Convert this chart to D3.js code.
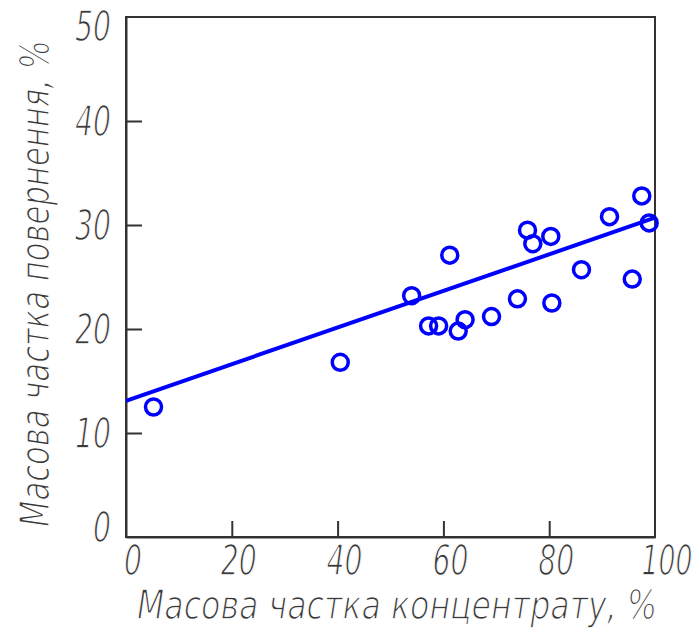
<!DOCTYPE html>
<html><head><meta charset="utf-8">
<script src="https://cdn.jsdelivr.net/npm/d3@7"></script>
<style>body{margin:0;background:#fff}svg{display:block}</style>
</head><body>
<script>
const concentrate = [5.2, 40.5, 54.0, 57.2, 59.1, 61.2, 62.8, 64.1, 69.1, 74.0, 75.9, 76.9, 80.3, 80.5, 86.1, 91.4, 95.7, 97.5, 98.9];
const returned    = [12.5, 16.8, 23.2, 20.3, 20.3, 27.1, 19.8, 20.9, 21.2, 22.9, 29.5, 28.2, 28.9, 22.5, 25.7, 30.8, 24.8, 32.8, 30.2];
const xTicks = [0, 20, 40, 60, 80, 100];
const yTicks = [0, 10, 20, 30, 40, 50];
const fitIntercept = [13.1];
const fitSlope = [0.176];
const xLabel = "Масова частка концентрату, %";
const yLabel = "Масова частка повернення, %";

const W = 698, H = 630;
const L = 126, R = 655, T = 17, B = 537;
const x = d3.scaleLinear().domain([0, 100]).range([L, R]);
const y = d3.scaleLinear().domain([0, 50]).range([B, T]);
const FONT = "'DejaVu Sans Condensed', 'DejaVu Sans', sans-serif";
const axisColor = "#333";
const textColor = "#3a3a3a";

const svg = d3.select("body").append("svg").attr("width", W).attr("height", H);

function thin(sel) {
  return sel.attr("stroke", "#fff").attr("stroke-width", 1.3).attr("paint-order", "normal");
}

// place a text so that its natural width is squeezed to `width`, anchored at its start
function squeezed(parent, str, x0, y0, width, size, rotate) {
  const g = parent.append("g");
  const t = thin(g.append("text")
    .attr("font-family", FONT).attr("font-style", "italic").attr("font-size", size)
    .attr("fill", textColor).text(str));
  const nat = t.node().getComputedTextLength();
  const sx = width / nat;
  g.attr("transform", `translate(${x0},${y0})` + (rotate ? ` rotate(${rotate})` : "") + ` scale(${sx},1)`);
  return g;
}

// box
svg.append("rect").attr("x", L).attr("y", T).attr("width", R - L).attr("height", B - T)
  .attr("fill", "none").attr("stroke", axisColor).attr("stroke-width", 2);

// ticks (inward)
const xAxis = d3.axisBottom(x).tickValues(xTicks).tickSizeInner(-16).tickSizeOuter(0).tickFormat("");
const yAxis = d3.axisLeft(y).tickValues(yTicks).tickSizeInner(-16).tickSizeOuter(0).tickFormat("");
const gx = svg.append("g").attr("transform", `translate(0,${B})`).call(xAxis);
const gy = svg.append("g").attr("transform", `translate(${L},0)`).call(yAxis);
[gx, gy].forEach(g => {
  g.select(".domain").attr("stroke", axisColor).attr("stroke-width", 2);
  g.selectAll(".tick line").attr("stroke", axisColor).attr("stroke-width", 2);
});
gx.selectAll(".tick").filter(d => d === 0 || d === 100).select("line").remove();
gy.selectAll(".tick").filter(d => d === 0 || d === 50).select("line").remove();

// tick labels
const digitW = 18;
const gyl = svg.append("g");
yTicks.forEach(d => {
  const s = String(d), w = digitW * s.length;
  squeezed(gyl, s, 111 - w, Math.max(26, Math.min(527, y(d))) + 15, w, 43);
});
const gxl = svg.append("g");
xTicks.forEach(d => {
  const s = String(d), w = (d === 100 ? 17 : digitW) * s.length;
  const cx = x(d) + (d === 100 ? 12 : 7);
  squeezed(gxl, s, cx - w / 2, 575, w, 43);
});

// axis titles
squeezed(svg, xLabel, 137, 619, 520, 40);
squeezed(svg, yLabel, 49, 527, 487, 40, -90);

// fit line
const clipId = "plotclip";
svg.append("clipPath").attr("id", clipId).append("rect")
  .attr("x", L).attr("y", T).attr("width", R - L).attr("height", B - T);
const fitPts = [0, 100].map(v => [v, fitIntercept[0] + fitSlope[0] * v]);
svg.append("path")
  .attr("clip-path", `url(#${clipId})`)
  .attr("d", d3.line().x(d => x(d[0])).y(d => y(d[1]))(fitPts))
  .attr("stroke", "#0000ff").attr("stroke-width", 4).attr("fill", "none");

// points
svg.append("g").selectAll("circle").data(concentrate.map((c, i) => [c, returned[i]])).join("circle")
  .attr("cx", d => x(d[0])).attr("cy", d => y(d[1])).attr("r", 8)
  .attr("fill", "none").attr("stroke", "#0000ff").attr("stroke-width", 3.5);
</script>
</body></html>
